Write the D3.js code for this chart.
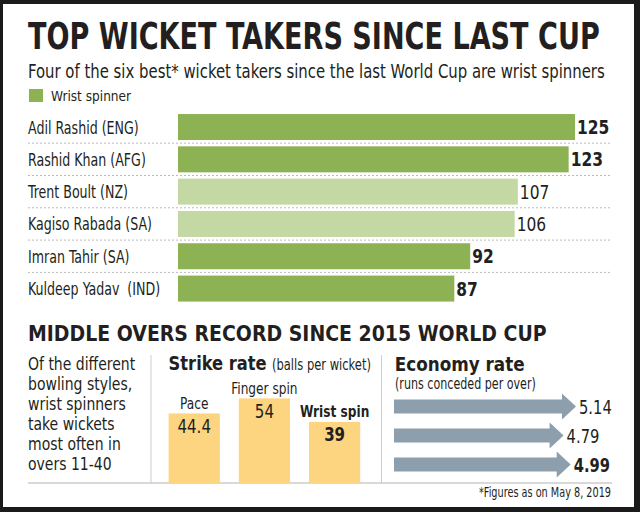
<!DOCTYPE html>
<html lang="en">
  <head>
    <meta charset="UTF-8" />
    <title>Top wicket takers since last cup</title>
    <script src="https://d3js.org/d3.v7.min.js"></script>
    <style>
      body { margin: 0; background: #fff; }
      svg text { font-family: "Liberation Sans Narrow", "DejaVu Sans Condensed", "DejaVu Sans", sans-serif; fill: #231f20; white-space: pre; }
    </style>
  </head>
  <body>
    <svg width="640" height="512"></svg>

    <script>
      // data
      const players = ["Adil Rashid (ENG)", "Rashid Khan (AFG)", "Trent Boult (NZ)", "Kagiso Rabada (SA)", "Imran Tahir (SA)", "Kuldeep Yadav  (IND)"];
      const wickets = [125, 123, 107, 106, 92, 87];
      const isWristSpinner = [true, true, false, false, true, true];

      const styles = ["Pace", "Finger spin", "Wrist spin"];
      const strikeRate = ["44.4", "54", "39"];
      const economyRate = ["5.14", "4.79", "4.99"];

      const noteLines = ["Of the different", "bowling styles,", "wrist spinners", "take wickets", "most often in", "overs 11-40"];

      const svg = d3.select("svg");
      const dark = "#8cb254", light = "#c4d8a3", yellow = "#fdd47f", arrowGrey = "#8d9fac";

      // the original face is condensed, so every text gets squeezed sideways
      // either to a target width (w) or by a ratio (k)
      function label(x, y, txt, size, opts = {}) {
        const t = svg.append("text")
          .attr("transform", `translate(${x},${y})`)
          .style("font-size", size + "px")
          .style("font-weight", opts.bold ? "bold" : "normal")
          .style("text-anchor", opts.anchor || "start")
          .text(txt);
        const natural = t.node().getComputedTextLength();
        const k = opts.w ? opts.w / natural : (opts.k || 1);
        t.attr("transform", `translate(${x},${y}) scale(${k},1)`);
        return t;
      }

      // frame
      svg.append("rect").attr("width", 640).attr("height", 512).attr("fill", "#1b1b1b");
      svg.append("rect").attr("x", 3).attr("y", 4).attr("width", 631).attr("height", 503).attr("fill", "#fff");

      // heading
      label(28, 49, "TOP WICKET TAKERS SINCE LAST CUP", 37, { bold: true, w: 572 });
      label(28, 78, "Four of the six best* wicket takers since the last World Cup are wrist spinners", 19, { w: 577 });
      svg.append("rect").attr("x", 29).attr("y", 89).attr("width", 14).attr("height", 13).attr("fill", dark);
      label(51, 101, "Wrist spinner", 13.5, { w: 80 });

      // wicket bars
      const x = d3.scaleLinear().domain([0, 125]).range([178, 575]);
      const y = d3.scaleBand().domain(players).range([110.8, 304.8]).paddingInner(0.195).paddingOuter(0.1);
      const gap = (y.step() - y.bandwidth()) / 2;

      svg.selectAll(".sep")
        .data(players.slice(0, -1))
        .enter().append("line")
        .attr("x1", 28).attr("x2", 611)
        .attr("y1", d => y(d) + y.bandwidth() + gap)
        .attr("y2", d => y(d) + y.bandwidth() + gap)
        .style("stroke", "#bbb").style("stroke-width", 1).style("stroke-dasharray", "2,2");

      svg.selectAll(".bar")
        .data(players)
        .enter().append("rect")
        .attr("x", x(0))
        .attr("y", d => y(d))
        .attr("width", (d, i) => x(wickets[i]) - x(0))
        .attr("height", y.bandwidth())
        .attr("fill", (d, i) => isWristSpinner[i] ? dark : light);

      players.forEach((p, i) => {
        const cy = y(p) + y.bandwidth() / 2;
        label(28, cy + 6.5, p, 18, { k: 0.78 });
        label(x(wickets[i]) + 2, cy + 7, wickets[i], 20, { bold: isWristSpinner[i], k: 0.86 });
      });

      // middle overs section
      label(28, 341, "MIDDLE OVERS RECORD SINCE 2015 WORLD CUP", 22, { bold: true, w: 519 });
      noteLines.forEach((t, i) => label(28, 369.5 + i * 20, t, 17.5, { k: 0.89 }));

      [151, 381.5].forEach(d => {
        svg.append("line").attr("x1", d).attr("x2", d).attr("y1", 355).attr("y2", 483)
          .style("stroke", "#ccc").style("stroke-width", 1);
      });
      svg.append("line").attr("x1", 28).attr("x2", 612).attr("y1", 483).attr("y2", 483)
        .style("stroke", "#ccc").style("stroke-width", 1.5);

      // strike rate columns
      label(168.6, 370, "Strike rate", 20, { bold: true, w: 98 });
      label(272, 370, "(balls per wicket)", 15.5, { w: 99 });

      const xs = d3.scaleBand().domain(styles).range([168.6, 360.2]).paddingInner(0.27);
      const ys = d3.scaleLinear().domain([0, 54]).range([483, 398.4]);

      svg.selectAll(".col")
        .data(styles)
        .enter().append("rect")
        .attr("x", d => xs(d))
        .attr("y", (d, i) => ys(+strikeRate[i]))
        .attr("width", xs.bandwidth())
        .attr("height", (d, i) => ys(0) - ys(+strikeRate[i]))
        .attr("fill", yellow);

      styles.forEach((s, i) => {
        const cx = xs(s) + xs.bandwidth() / 2;
        const top = ys(+strikeRate[i]);
        const wrist = s === "Wrist spin";
        label(cx, top - 4.5, s, 16.5, { bold: wrist, anchor: "middle", k: 0.82 });
        label(cx, top + 19.5, strikeRate[i], 19, { bold: wrist, anchor: "middle", k: 0.88 });
      });

      // economy rate arrows
      label(394.7, 371, "Economy rate", 19.5, { bold: true, w: 130 });
      label(395, 389, "(runs conceded per over)", 15, { w: 141 });

      const xe = d3.scaleLinear().domain([0, 5.14]).range([394, 576]);
      const ye = d3.scaleBand().domain(styles).range([392, 479]);
      const shaft = 7, head = 13, headLen = 14;

      svg.selectAll(".arrow")
        .data(styles)
        .enter().append("path")
        .attr("d", (d, i) => {
          const cy = ye(d) + ye.bandwidth() / 2;
          const x0 = xe(0), tip = xe(+economyRate[i]), hx = tip - headLen;
          return d3.line()([
            [x0, cy - shaft], [hx, cy - shaft], [hx, cy - head], [tip, cy],
            [hx, cy + head], [hx, cy + shaft], [x0, cy + shaft]
          ]) + "Z";
        })
        .attr("fill", arrowGrey);

      styles.forEach((s, i) => {
        const cy = ye(s) + ye.bandwidth() / 2;
        label(xe(+economyRate[i]) + 3, cy + 7, economyRate[i], 19.5, { bold: s === "Wrist spin", k: 0.84 });
      });

      label(611, 497, "*Figures as on May 8, 2019", 13.5, { anchor: "end", w: 132 });
    </script>
  </body>
</html>
